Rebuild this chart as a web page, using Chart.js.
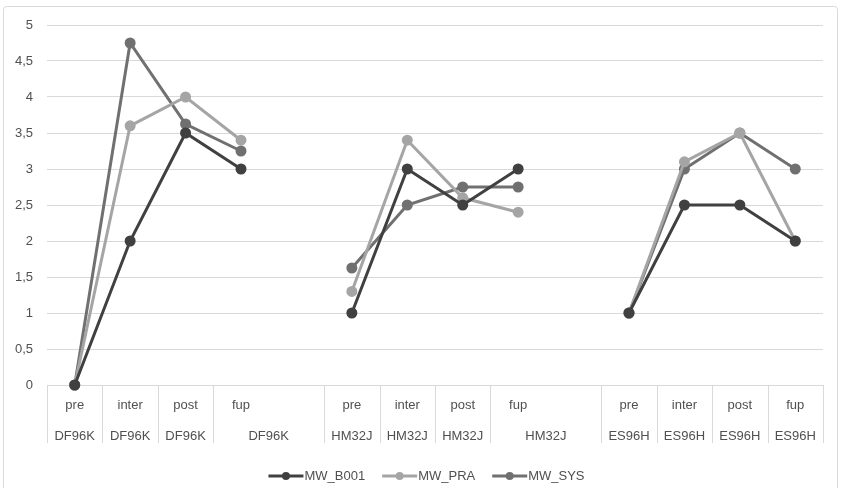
<!DOCTYPE html>
<html><head><meta charset="utf-8">
<script src="https://cdn.jsdelivr.net/npm/chart.js@4"></script>
<style>html,body{margin:0;padding:0;background:#fff}#wrap{width:841px;height:488px;position:relative}</style>
</head><body><div id="wrap"><canvas id="c" width="841" height="488"></canvas></div>
<script>
const phases = ['pre','inter','post','fup','','pre','inter','post','fup','','pre','inter','post','fup'];
const groups = ['DF96K','DF96K','DF96K','DF96K','DF96K','HM32J','HM32J','HM32J','HM32J','HM32J','ES96H','ES96H','ES96H','ES96H'];
const mwB001 = [0, 2, 3.5, 3, null, 1, 3, 2.5, 3, null, 1, 2.5, 2.5, 2];
const mwPRA  = [0, 3.6, 4, 3.4, null, 1.3, 3.4, 2.6, 2.4, null, 1, 3.1, 3.5, 2];
const mwSYS  = [0, 4.75, 3.625, 3.25, null, 1.625, 2.5, 2.75, 2.75, null, 1, 3, 3.5, 3];
const yTicks = [0, 0.5, 1, 1.5, 2, 2.5, 3, 3.5, 4, 4.5, 5];
const seriesNames = ['MW_B001', 'MW_PRA', 'MW_SYS'];
const seriesColors = ['#404040', '#a5a5a5', '#707070'];

const FONT = '"Liberation Sans", Arial, sans-serif';
const TXT = '#505050';
const GRID = '#d9d9d9';

const catAxis = {
  id: 'catAxis',
  beforeDatasetsDraw(chart) {
    const {ctx, chartArea: a, scales: {x}} = chart;
    const half = (x.getPixelForValue(1) - x.getPixelForValue(0)) / 2;
    const bottom = 443;
    ctx.save();
    ctx.strokeStyle = GRID; ctx.lineWidth = 1;
    ctx.beginPath();
    for (let i = 0; i <= phases.length; i++) {
      if (i < phases.length && phases[i] === '') continue;
      const px = Math.round(i < phases.length ? x.getPixelForValue(i) - half : x.getPixelForValue(i - 1) + half) + 0.5;
      ctx.moveTo(px, a.bottom); ctx.lineTo(px, bottom);
    }
    ctx.stroke();
    ctx.restore();
  },
  afterDraw(chart) {
    const {ctx, chartArea: a, scales: {x}} = chart;
    ctx.save();
    ctx.fillStyle = TXT;
    ctx.font = '13px ' + FONT;
    ctx.textAlign = 'center'; ctx.textBaseline = 'middle';
    for (let i = 0; i < phases.length; i++) {
      if (phases[i] === '') continue;
      const px = x.getPixelForValue(i);
      ctx.fillText(phases[i], px, 405);
      let cx = px;
      if (i + 1 < phases.length && phases[i + 1] === '') cx = (px + x.getPixelForValue(i + 1)) / 2;
      ctx.fillText(groups[i], cx, 436);
    }
    // legend
    const ly = 476;
    const mW = 35, gap = 18;
    const widths = seriesNames.map(n => mW + ctx.measureText(n).width);
    const total = widths.reduce((s, w) => s + w, 0) + gap * (seriesNames.length - 1);
    let lx = 426 - total / 2;
    ctx.textAlign = 'left';
    seriesNames.forEach((n, k) => {
      ctx.strokeStyle = seriesColors[k]; ctx.lineWidth = 3;
      ctx.beginPath(); ctx.moveTo(lx, ly); ctx.lineTo(lx + mW, ly); ctx.stroke();
      ctx.fillStyle = seriesColors[k];
      ctx.beginPath(); ctx.arc(lx + mW / 2, ly, 4, 0, Math.PI * 2); ctx.fill();
      ctx.fillStyle = TXT;
      ctx.fillText(n, lx + mW + 1, ly);
      lx += widths[k] + gap;
    });
    // outer border
    ctx.strokeStyle = GRID; ctx.lineWidth = 1;
    ctx.beginPath();
    ctx.roundRect(3.5, 6.5, 834, 495, 3);
    ctx.stroke();
    ctx.restore();
  }
};

const data = [mwB001, mwPRA, mwSYS];
new Chart(document.getElementById('c'), {
  type: 'line',
  data: {
    labels: phases,
    datasets: seriesNames.map((n, k) => ({
      label: n,
      data: data[k],
      borderColor: seriesColors[k],
      backgroundColor: seriesColors[k],
      pointBackgroundColor: seriesColors[k],
      pointBorderColor: seriesColors[k],
      borderWidth: 3,
      pointRadius: 4,
      pointHoverRadius: 4,
      tension: 0,
      spanGaps: false,
      clip: false
    }))
  },
  options: {
    responsive: false,
    devicePixelRatio: 1,
    animation: false,
    events: [],
    layout: {padding: {top: 25, right: 18, bottom: 103, left: 0}},
    plugins: {legend: {display: false}, tooltip: {enabled: false}},
    scales: {
      x: {display: false, offset: true},
      y: {
        min: 0, max: 5,
        afterBuildTicks: s => { s.ticks = yTicks.map(v => ({value: v})); },
        afterFit: s => { s.width = 47; },
        ticks: {padding: 14, color: TXT, font: {size: 13, family: FONT},
          callback: v => String(v).replace('.', ',')},
        grid: {color: GRID, drawTicks: false},
        border: {display: false}
      }
    }
  },
  plugins: [catAxis]
});
</script>
</body></html>
